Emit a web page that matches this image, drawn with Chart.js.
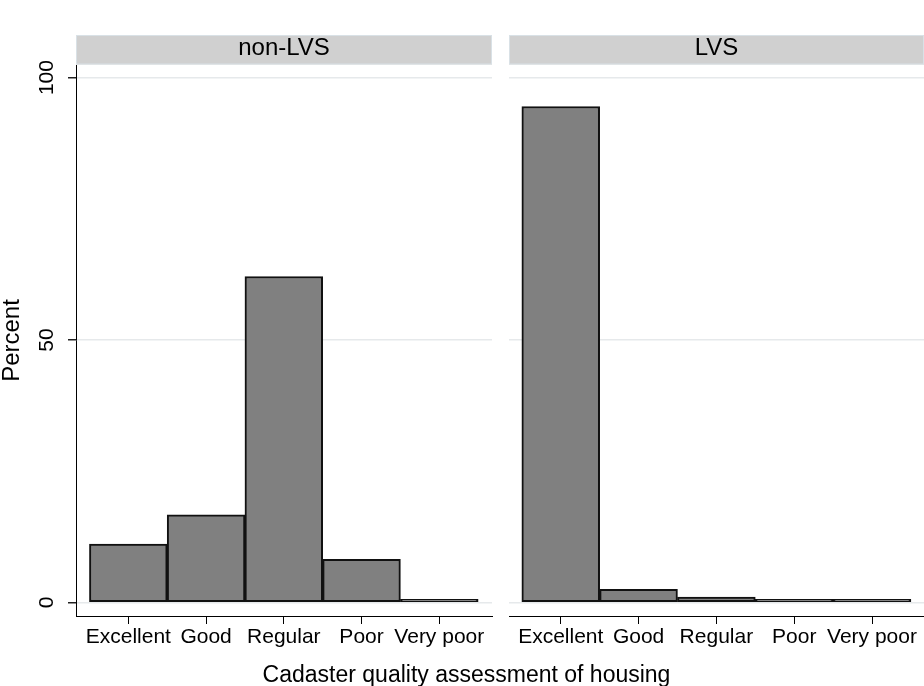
<!DOCTYPE html>
<html>
<head>
<meta charset="utf-8">
<title>Cadaster quality assessment of housing</title>
<script src="https://cdn.jsdelivr.net/npm/chart.js@4/dist/chart.umd.min.js"></script>
<style>
  html, body { margin: 0; padding: 0; background: #fff; }
  #wrap { position: relative; width: 924px; height: 686px; overflow: hidden; }
  #wrap canvas { position: absolute; top: 0; }
  #xtitle {
    position: absolute; left: 0; width: 933px; top: 661px;
    text-align: center; line-height: 23px; white-space: nowrap;
    font: 23px "Liberation Sans", Arial, sans-serif; color: #000;
  }
</style>
</head>
<body>
<div id="wrap">
  <canvas id="left" width="500" height="686" style="left:0"></canvas>
  <canvas id="right" width="424" height="686" style="left:500px"></canvas>
  <div id="xtitle">Cadaster quality assessment of housing</div>
</div>
<script>
// Housing quality categories (x axis)
const categories = ['Excellent', 'Good', 'Regular', 'Poor', 'Very poor'];
// Percent of dwellings in each category, by group
const nonLvsPercent = [11.1, 16.7, 62.1, 8.2, 0.4];
const lvsPercent = [94.5, 2.5, 1.0, 0.3, 0.15];
// Panel headers and y ticks
const panelTitles = ['non-LVS', 'LVS'];
const yTicks = [0, 50, 100];

const FONT = '"Liberation Sans", Arial, sans-serif';

// Grey header band above each panel
const stripPlugin = {
  id: 'strip',
  beforeDraw(chart, args, opts) {
    const { ctx, chartArea } = chart;
    const w = chartArea.right - chartArea.left;
    ctx.save();
    ctx.fillStyle = '#d0d0d0';
    ctx.fillRect(chartArea.left, 35, w, 29.5);
    ctx.strokeStyle = '#d9e1e6';
    ctx.lineWidth = 1;
    ctx.strokeRect(chartArea.left + 0.5, 35.5, w - 1, 28.5);
    ctx.fillStyle = '#000';
    ctx.font = '24px ' + FONT;
    ctx.textAlign = 'center';
    ctx.textBaseline = 'alphabetic';
    ctx.fillText(opts.text, (chartArea.left + chartArea.right) / 2, 55);
    ctx.restore();
  }
};

function makePanel(canvasId, values, title, showYAxis, xMin, xMax) {
  const data = values.map((v, i) => ({ x: i, y: v }));
  return new Chart(document.getElementById(canvasId), {
    type: 'bar',
    data: {
      datasets: [{
        data: data,
        backgroundColor: '#808080',
        borderColor: '#111111',
        borderWidth: 2,
        borderSkipped: false,
        minBarLength: 3,
        barPercentage: 1.0,
        categoryPercentage: 1.0
      }]
    },
    options: {
      responsive: false,
      animation: false,
      devicePixelRatio: 1,
      layout: { padding: { top: 65, bottom: 0, left: 0, right: showYAxis ? 8 : 0 } },
      plugins: {
        legend: { display: false },
        title: { display: false },
        tooltip: { enabled: false },
        strip: { text: title }
      },
      scales: {
        x: {
          type: 'linear',
          min: xMin,
          max: xMax,
          offset: false,
          afterBuildTicks: (scale) => { scale.ticks = categories.map((_, i) => ({ value: i })); },
          afterFit: (scale) => { scale.height = 70; },
          border: { display: true, color: '#000', width: 1 },
          grid: {
            offset: false,
            drawOnChartArea: false,
            drawTicks: true,
            tickLength: 8,
            tickWidth: 1,
            tickColor: '#000',
            color: '#000'
          },
          ticks: {
            autoSkip: false,
            maxRotation: 0,
            minRotation: 0,
            padding: 1,
            color: '#000',
            font: { family: FONT, size: 21 },
            callback: (v) => categories[v]
          }
        },
        y: {
          type: 'linear',
          min: -2.6,
          max: 102.4,
          afterBuildTicks: (scale) => { scale.ticks = yTicks.map(v => ({ value: v })); },
          afterFit: (scale) => { scale.width = showYAxis ? 76 : 9; },
          border: { display: showYAxis, color: '#000', width: 1 },
          grid: {
            drawTicks: showYAxis,
            tickLength: 8,
            tickColor: '#222',
            color: '#e6e9eb',
            lineWidth: 1.5
          },
          ticks: {
            display: showYAxis,
            minRotation: 90,
            maxRotation: 90,
            crossAlign: 'center',
            padding: 3,
            color: '#000',
            font: { family: FONT, size: 21 }
          },
          title: {
            display: showYAxis,
            text: 'Percent',
            color: '#000',
            padding: 0,
            font: { family: FONT, size: 24, lineHeight: 1 }
          }
        }
      }
    },
    plugins: [stripPlugin]
  });
}

makePanel('left', nonLvsPercent, panelTitles[0], true, -0.673, 4.678);
makePanel('right', lvsPercent, panelTitles[1], false, -0.665, 4.668);
</script>
</body>
</html>
